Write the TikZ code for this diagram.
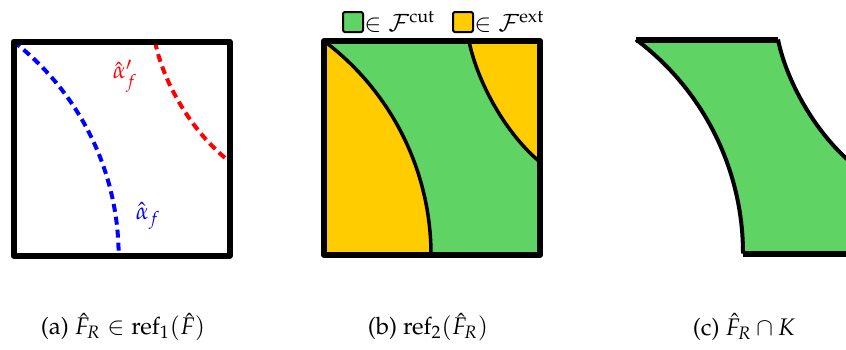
\documentclass[tikz,border=0pt]{standalone}
\usepackage[T1]{fontenc}
\usepackage{mathpazo}
\definecolor{cutgreen}{RGB}{95,211,99}
\definecolor{extyellow}{RGB}{255,204,0}
\begin{document}
\begin{tikzpicture}[x=0.5pt,y=-0.5pt, line join=round,
  frame/.style={line width=3pt},
  curve/.style={line width=1.75pt},
  dashcurve/.style={line width=2pt, dash pattern=on 4pt off 2.5pt},
  legbox/.style={draw, line width=1pt, rounded corners=1pt, minimum size=10pt, inner sep=0pt},
  txt/.style={font=\fontsize{12}{14}\selectfont, inner sep=0pt}]
\useasboundingbox (0,0) rectangle (846,349);
\clip (0,0) rectangle (846,349);

% (a)
\begin{scope}[shift={(13.5,41.5)}]
  \draw[dashcurve, blue] (0,0) arc[start angle=-52.3, end angle=0, radius=270.6];
  \draw[dashcurve, red] (141.5,0) .. controls (149.5,40) and (177.5,90) .. (216,120);
  \draw[frame] (0,0) rectangle (216,214);
\end{scope}
\node[txt, red] (alphap) at (125,76) {$\hat{\alpha}'_f$};
\node[txt, blue] (alpha) at (148,216) {$\hat{\alpha}_f$};

% (b)
\begin{scope}[shift={(324,41)}]
  \fill[cutgreen] (0,0) rectangle (216,214);
  \fill[extyellow] (0,0) arc[start angle=-53.13, end angle=0, radius=267.5] -- (0,214) -- cycle;
  \fill[extyellow] (145,0) .. controls (153,40) and (181,92) .. (216,121) -- (216,0) -- cycle;
  \draw[curve] (0,0) arc[start angle=-53.13, end angle=0, radius=267.5];
  \draw[curve] (145,0) .. controls (153,40) and (181,92) .. (216,121);
  \draw[frame] (0,0) rectangle (216,214);
\end{scope}
\node[legbox, fill=cutgreen] (lg1) at (353,22) {};
\node[txt, anchor=west] (lt1) at (lg1.east) {$\in\mathcal{F}^{\mathrm{cut}}$};
\node[legbox, fill=extyellow] (lg2) at (463,22) {};
\node[txt, anchor=west] (lt2) at (lg2.east) {$\in\mathcal{F}^{\mathrm{ext}}$};

% (c)
\begin{scope}[shift={(636,39.5)}]
  \fill[cutgreen] (0,0) -- (142,0) .. controls (150,40) and (178,92) .. (216,124)
     -- (216,214) -- (107,214) arc[start angle=0, end angle=-53.13, radius=267.5] -- cycle;
  \draw[line width=2pt] (0,0) arc[start angle=-53.13, end angle=0, radius=267.5];
  \draw[line width=2pt] (142,0) .. controls (150,40) and (178,92) .. (216,124);
  \draw[frame] (0,0) -- (142,0);
  \draw[frame] (107,214) -- (216,214);
  \draw[frame] (216,124) -- (216,214);
\end{scope}

% captions
\node[txt] (capa) at (123,327) {(a) $\hat{F}_R \in \mathrm{ref}_1(\hat{F})$};
\node[txt] (capb) at (428,327) {(b) $\mathrm{ref}_2(\hat{F}_R)$};
\node[txt] (capc) at (744,327) {(c) $\hat{F}_R \cap K$};
\end{tikzpicture}
\end{document}
